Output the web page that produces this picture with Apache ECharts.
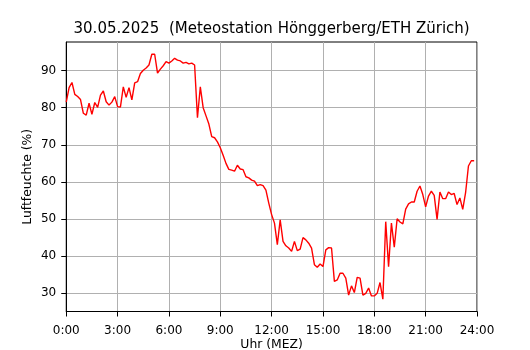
<!DOCTYPE html>
<html>
<head>
<meta charset="utf-8">
<script src="https://cdn.jsdelivr.net/npm/echarts@6/dist/echarts.min.js"></script>
<style>
  html, body { margin: 0; padding: 0; background: #fff; }
  #chart { width: 530px; height: 350px; }
</style>
</head>
<body>
<div id="chart"></div>
<script>
// 10-minute readings, 0:00 .. 23:50
const stepMinutes = 10;
const humidity = [
    81.5, 85.4, 86.8, 83.6, 83.0, 82.2, 78.5, 78.0, 81.2, 78.2,
    81.4, 80.1, 83.4, 84.5, 81.6, 80.7, 81.5, 83.0, 80.3, 80.2,
    85.6, 82.8, 85.4, 82.1, 86.7, 87.0, 89.2, 90.1, 90.7, 91.5,
    94.4, 94.4, 89.3, 90.4, 91.3, 92.4, 92.0, 92.6, 93.3, 92.8,
    92.6, 92.0, 92.2, 91.8, 92.0, 91.5, 77.3, 85.6, 80.0, 77.8,
    75.6, 72.2, 71.9, 70.8, 69.2, 67.2, 65.0, 63.4, 63.2, 62.9,
    64.5, 63.5, 63.3, 61.4, 61.1, 60.5, 60.2, 59.0, 59.3, 59.0,
    57.8, 54.3, 51.2, 48.9, 43.1, 49.8, 44.0, 42.8, 42.2, 41.3,
    44.0, 41.5, 41.9, 45.0, 44.4, 43.5, 42.2, 37.7, 37.0, 37.9,
    37.2, 41.7, 42.3, 42.2, 33.2, 33.6, 35.4, 35.4, 34.1, 29.5,
    32.0, 30.2, 34.3, 34.1, 29.5, 30.0, 31.4, 29.3, 29.3, 30.0,
    32.9, 28.4, 49.3, 37.2, 48.9, 42.4, 50.1, 49.2, 48.7, 52.7,
    54.1, 54.6, 54.6, 57.5, 58.9, 56.6, 53.3, 56.2, 57.5, 56.4,
    49.9, 57.3, 55.5, 55.5, 57.3, 56.6, 56.9, 53.9, 55.7, 52.6,
    57.1, 64.3, 65.7, 65.7
];
const xTicks = [0, 3, 6, 9, 12, 15, 18, 21, 24];
const yTicks = [30, 40, 50, 60, 70, 80, 90];

const titleText = '30.05.2025  (Meteostation Hönggerberg/ETH Zürich)';

// matplotlib style 5% margin around the data
const dMin = Math.min(...humidity), dMax = Math.max(...humidity);
const pad = (dMax - dMin) * 0.05;

const points = humidity.map((v, i) => [i * stepMinutes / 60, v]);

const font = 'DejaVu Sans';
const chart = echarts.init(document.getElementById('chart'), null, { renderer: 'canvas' });

const option = {
    animation: false,
    backgroundColor: '#fff',
    title: {
        text: titleText,
        left: 271.6,
        top: 22,
        padding: 0,
        textAlign: 'center',
        textStyle: { fontFamily: font, fontSize: 15, fontWeight: 'normal', color: '#000' }
    },
    grid: {
        left: 66.25, right: 53, top: 42, bottom: 38.5,
        containLabel: false,
        outerBoundsMode: 'none',
        show: true,
        borderColor: '#000',
        borderWidth: 1,
        backgroundColor: 'transparent'
    },
    xAxis: {
        type: 'value',
        min: 0, max: 24, interval: 3,
        name: 'Uhr (MEZ)',
        nameLocation: 'middle',
        nameGap: 27,
        nameMoveOverlap: false,
        nameTextStyle: { fontFamily: font, fontSize: 12.4, color: '#000' },
        axisLine: { show: true, lineStyle: { color: '#000', width: 1 } },
        axisTick: { show: true, length: 5, customValues: xTicks, lineStyle: { color: '#000', width: 1 } },
        axisLabel: {
            customValues: xTicks,
            margin: 13,
            fontFamily: font, fontSize: 12, color: '#000',
            formatter: v => v + ':00'
        },
        splitLine: { show: true, lineStyle: { color: '#b0b0b0', width: 1 } }
    },
    yAxis: {
        type: 'value',
        min: dMin - pad, max: dMax + pad,
        name: 'Luftfeuchte (%)',
        nameLocation: 'middle',
        nameGap: 32,
        nameMoveOverlap: false,
        nameTextStyle: { fontFamily: font, fontSize: 12.4, color: '#000' },
        axisLine: { show: true, lineStyle: { color: '#000', width: 1 } },
        axisTick: { show: true, length: 5, customValues: yTicks, lineStyle: { color: '#000', width: 1 } },
        axisLabel: {
            customValues: yTicks,
            margin: 10,
            fontFamily: font, fontSize: 12, color: '#000'
        },
        splitLine: { show: true, lineStyle: { color: '#b0b0b0', width: 1 } }
    },
    series: [
        {
            name: 'Luftfeuchte',
            type: 'line',
            data: points,
            showSymbol: false,
            symbol: 'none',
            lineStyle: { color: '#ff0000', width: 1.4 }
        }
    ]
};

chart.setOption(option);
</script>
</body>
</html>
